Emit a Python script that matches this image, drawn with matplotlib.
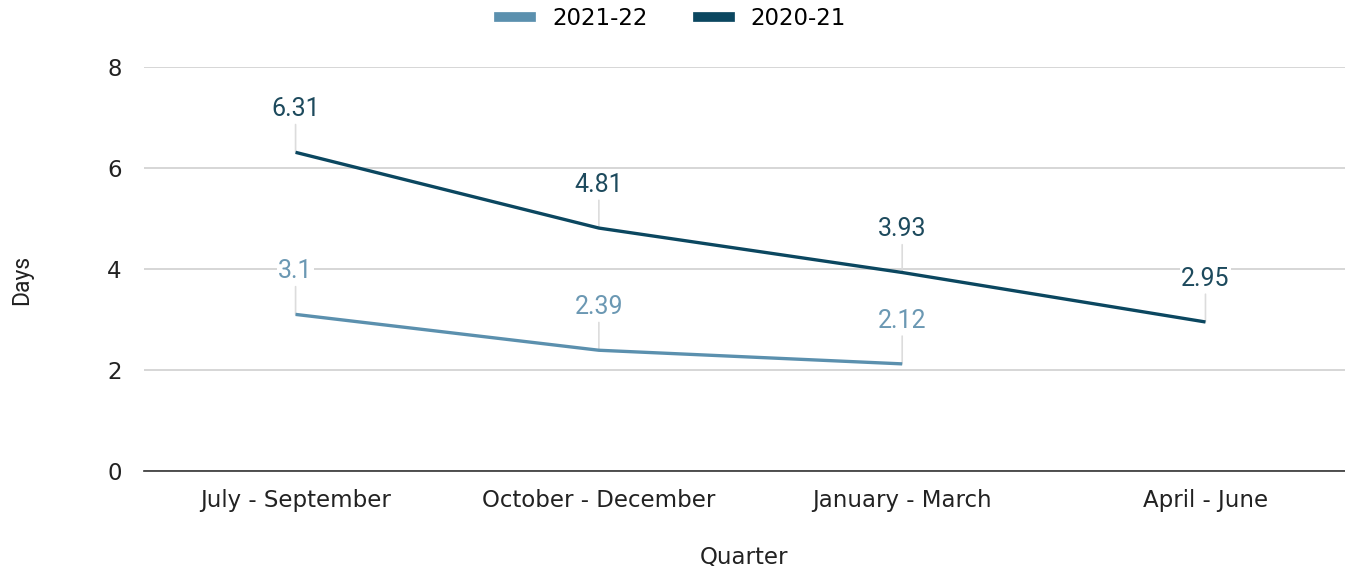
import matplotlib
matplotlib.use("Agg")
import matplotlib.pyplot as plt
from matplotlib.lines import Line2D

quarters = ["July - September", "October - December", "January - March", "April - June"]
days_2021_22 = [3.1, 2.39, 2.12]
days_2020_21 = [6.31, 4.81, 3.93, 2.95]
labels_2021_22 = ["3.1", "2.39", "2.12"]
labels_2020_21 = ["6.31", "4.81", "3.93", "2.95"]

light = "#5b90ae"
dark = "#0b4760"
light_txt = "#6b98b3"
dark_txt = "#1d4a5d"

fig = plt.figure(figsize=(13.45, 5.66), dpi=100)
ax = fig.add_axes([0.107, 0.168, 0.893, 0.7136])

x_all = list(range(len(quarters)))
ax.plot(x_all[:len(days_2021_22)], days_2021_22, color=light, lw=2.4, zorder=3,
        solid_capstyle="butt")
ax.plot(x_all, days_2020_21, color=dark, lw=2.4, zorder=3, solid_capstyle="butt")


def label_points(xs, ys, texts, color):
    for xv, yv, t in zip(xs, ys, texts):
        ax.annotate("", xy=(xv, yv), xytext=(0, 20), textcoords="offset points",
                    arrowprops=dict(arrowstyle="-", color="#dcdcdc", lw=1.2,
                                    shrinkA=0, shrinkB=0), zorder=2)
        ax.annotate(t, xy=(xv, yv), xytext=(0, 31), textcoords="offset points",
                    ha="center", va="center", fontsize=18, color=color,
                    family="Roboto", zorder=4,
                    bbox=dict(boxstyle="square,pad=0.05", fc="white", ec="none"))


label_points(x_all, days_2021_22, labels_2021_22, light_txt)
label_points(x_all, days_2020_21, labels_2020_21, dark_txt)

ax.set_xlim(-0.5, 3.46)
ax.set_ylim(0, 8)
ax.set_yticks([0, 2, 4, 6, 8])
ax.set_xticks(x_all)
ax.set_xticklabels(quarters)
ax.grid(axis="y", color="#cccccc", lw=1.1)
ax.set_axisbelow(True)
for s in ["top", "right", "left"]:
    ax.spines[s].set_visible(False)
ax.spines["bottom"].set_color("#333333")
ax.spines["bottom"].set_linewidth(1.2)
ax.tick_params(axis="both", length=0, labelsize=16.5, labelcolor="#222222")
ax.tick_params(axis="x", pad=13)
ax.tick_params(axis="y", pad=16)

ax.set_xlabel("Quarter", fontsize=16.5, color="#222222", labelpad=24)
fig.text(0.016, 0.505, "Days", rotation=90, ha="center", va="center",
         fontsize=16.5, color="#222222", family="Roboto")

handles = [Line2D([], [], color=light, lw=7), Line2D([], [], color=dark, lw=7)]
fig.legend(handles, ["2021-22", "2020-21"], loc="center", bbox_to_anchor=(0.5, 0.968),
           ncol=2, frameon=False, fontsize=16.5, handlelength=1.4, columnspacing=2.2,
           handletextpad=0.9)

fig.savefig("out.png", dpi=100)
